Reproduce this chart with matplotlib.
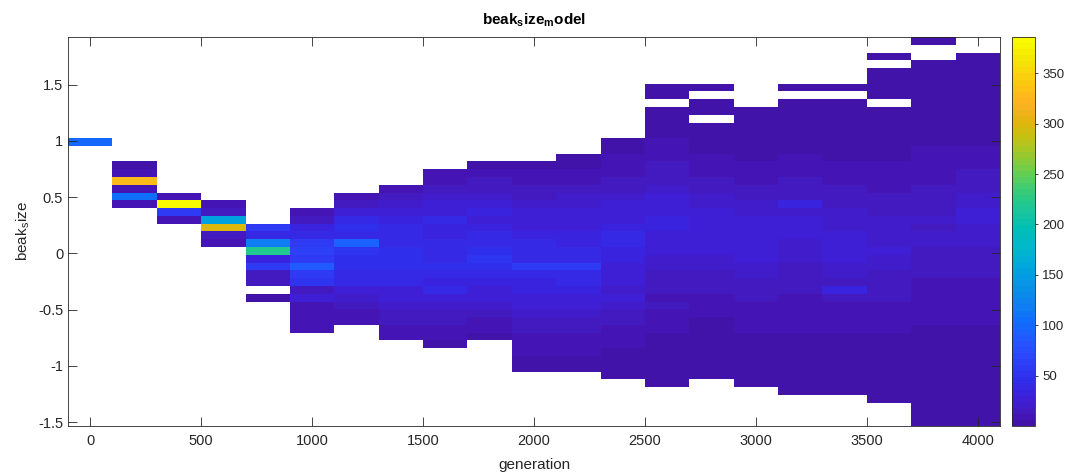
import numpy as np
import matplotlib
matplotlib.use("Agg")
import matplotlib.pyplot as plt
from matplotlib.colors import ListedColormap, rgb_to_hsv, hsv_to_rgb

# generations sampled every 200 steps, beak sizes binned into 50 equal bins
generations = list(range(0, 4001, 200))
beak_lo, beak_hi, n_bins = -1.533, 1.923, 50

# index (counted from the top bin) of the first listed bin in each generation
first_bin = [13, 16, 20, 21, 24, 22, 20, 19, 17, 16, 16, 15, 13, 6, 6, 9, 6, 6, 2, 0, 2]

# counts per bin, top to bottom, starting at first_bin; 0 = empty bin
column_counts = [
    [100],
    [5, 8, 330, 12, 105, 10],
    [10, 386, 55, 12],
    [12, 18, 152, 300, 15, 12],
    [55, 40, 120, 220, 35, 60, 15, 14, 0, 6],
    [8, 15, 35, 40, 55, 62, 55, 90, 55, 52, 15, 25, 12, 12, 8, 8],
    [8, 15, 30, 38, 45, 42, 95, 50, 48, 45, 42, 38, 25, 22, 15, 10, 8],
    [10, 18, 22, 28, 32, 38, 40, 42, 45, 48, 45, 42, 38, 30, 25, 20, 18, 14, 10, 8],
    [8, 12, 18, 22, 28, 25, 40, 32, 35, 40, 38, 42, 45, 40, 35, 38, 25, 22, 18, 15, 12, 10, 6],
    [6, 10, 14, 18, 22, 28, 32, 30, 35, 38, 40, 45, 50, 48, 42, 32, 30, 25, 20, 15, 12, 8, 6],
    [5, 8, 12, 15, 18, 22, 25, 28, 30, 32, 38, 42, 40, 55, 40, 35, 32, 28, 25, 20, 18, 15, 12, 10, 8, 6, 5],
    [5, 6, 10, 12, 15, 20, 22, 25, 28, 30, 32, 35, 38, 40, 55, 42, 38, 32, 28, 25, 20, 18, 15, 12, 10, 8, 6, 5],
    [4, 6, 8, 10, 12, 15, 18, 22, 25, 28, 30, 35, 40, 38, 35, 32, 30, 28, 25, 22, 25, 20, 18, 15, 12,
     10, 8, 6, 5, 4, 3],
    [2, 1, 0, 3, 4, 5, 6, 8, 10, 12, 14, 16, 18, 22, 25, 30, 28, 35, 32, 30, 28, 25, 22, 20, 18, 16,
     14, 12, 15, 10, 8, 7, 6, 5, 4, 3, 2, 2, 1],
    [1, 0, 2, 1, 0, 2, 3, 4, 5, 7, 9, 11, 14, 16, 20, 22, 26, 28, 25, 30, 28, 25, 22, 20, 18, 15, 13,
     11, 9, 7, 5, 4, 3, 2, 2, 1, 1, 1],
    [1, 2, 2, 3, 4, 5, 6, 8, 10, 12, 15, 18, 20, 22, 25, 28, 26, 30, 28, 25, 22, 20, 18, 15, 14, 12,
     10, 8, 7, 6, 4, 3, 3, 2, 1, 1],
    [1, 0, 1, 2, 2, 3, 4, 5, 6, 8, 10, 12, 14, 16, 18, 35, 22, 25, 28, 26, 24, 22, 20, 18, 16, 15, 14,
     12, 10, 9, 8, 7, 6, 5, 4, 3, 2, 2, 1, 1],
    [1, 0, 1, 1, 2, 2, 3, 4, 5, 6, 8, 9, 11, 13, 15, 18, 20, 22, 24, 26, 25, 28, 26, 24, 20, 18, 35,
     14, 12, 10, 8, 7, 6, 5, 4, 3, 2, 1, 1, 1],
    [1, 0, 1, 1, 1, 1, 0, 1, 2, 2, 3, 4, 5, 6, 7, 9, 10, 12, 14, 16, 18, 20, 22, 24, 22, 25, 22, 20,
     18, 16, 15, 13, 12, 10, 9, 8, 6, 5, 4, 3, 2, 2, 1, 1, 1],
    [1, 0, 0, 1, 1, 1, 1, 2, 2, 3, 3, 4, 5, 6, 7, 8, 10, 11, 12, 14, 15, 16, 18, 20, 18, 22, 20, 18,
     16, 15, 14, 12, 11, 10, 9, 8, 7, 6, 5, 5, 4, 3, 3, 2, 2, 2, 1, 1, 1, 1],
    [1, 1, 1, 1, 1, 2, 2, 3, 3, 4, 5, 6, 8, 9, 11, 13, 15, 17, 19, 22, 25, 28, 24, 22, 20, 18, 16,
     15, 13, 12, 11, 10, 9, 8, 7, 6, 5, 4, 4, 3, 3, 2, 2, 2, 1, 1, 1, 1],
]

# MATLAB parula, 64 levels
parula_rgb = np.array([
    [0.2422, 0.1504, 0.6603], [0.2504, 0.1650, 0.7076], [0.2578, 0.1818, 0.7511], [0.2647, 0.1978, 0.7952],
    [0.2706, 0.2147, 0.8364], [0.2751, 0.2342, 0.8710], [0.2783, 0.2559, 0.8991], [0.2803, 0.2782, 0.9221],
    [0.2813, 0.3006, 0.9414], [0.2810, 0.3228, 0.9579], [0.2795, 0.3447, 0.9717], [0.2760, 0.3667, 0.9829],
    [0.2699, 0.3892, 0.9906], [0.2602, 0.4123, 0.9952], [0.2440, 0.4358, 0.9988], [0.2206, 0.4603, 0.9973],
    [0.1963, 0.4847, 0.9892], [0.1834, 0.5074, 0.9798], [0.1786, 0.5289, 0.9682], [0.1764, 0.5499, 0.9520],
    [0.1687, 0.5703, 0.9359], [0.1540, 0.5902, 0.9218], [0.1460, 0.6091, 0.9079], [0.1380, 0.6276, 0.8973],
    [0.1248, 0.6459, 0.8883], [0.1113, 0.6635, 0.8763], [0.0952, 0.6798, 0.8598], [0.0689, 0.6948, 0.8394],
    [0.0297, 0.7082, 0.8163], [0.0036, 0.7203, 0.7917], [0.0067, 0.7312, 0.7660], [0.0433, 0.7411, 0.7394],
    [0.0964, 0.7500, 0.7120], [0.1408, 0.7584, 0.6842], [0.1717, 0.7670, 0.6554], [0.1938, 0.7758, 0.6251],
    [0.2161, 0.7843, 0.5923], [0.2470, 0.7918, 0.5567], [0.2906, 0.7973, 0.5188], [0.3406, 0.8008, 0.4789],
    [0.3909, 0.8029, 0.4354], [0.4456, 0.8024, 0.3909], [0.5044, 0.7993, 0.3480], [0.5616, 0.7942, 0.3045],
    [0.6174, 0.7876, 0.2612], [0.6720, 0.7793, 0.2227], [0.7242, 0.7698, 0.1910], [0.7738, 0.7598, 0.1646],
    [0.8203, 0.7498, 0.1535], [0.8634, 0.7406, 0.1596], [0.9035, 0.7330, 0.1774], [0.9393, 0.7288, 0.2100],
    [0.9728, 0.7298, 0.2394], [0.9956, 0.7434, 0.2371], [0.9970, 0.7659, 0.2199], [0.9952, 0.7893, 0.2028],
    [0.9892, 0.8136, 0.1885], [0.9786, 0.8386, 0.1766], [0.9676, 0.8639, 0.1643], [0.9610, 0.8890, 0.1537],
    [0.9597, 0.9135, 0.1423], [0.9628, 0.9373, 0.1265], [0.9691, 0.9606, 0.1064], [0.9769, 0.9839, 0.0805],
])

# screen-style rendering: a bit more saturated, darkest blues pushed toward violet
hsv = rgb_to_hsv(parula_rgb)
hue_deg = hsv[:, 0] * 360
shift = np.where((hue_deg > 240) & (hue_deg < 275), 8 * np.clip((hue_deg - 240) / 9, 0, 1), 0)
hsv[:, 0] = (hue_deg + shift) / 360
hsv[:, 1] = np.clip(hsv[:, 1] * 1.15, 0, 1)
parula = ListedColormap(hsv_to_rgb(hsv), name="parula")
parula.set_bad("white")

# assemble the bin x generation count matrix (row 0 = top bin)
counts = np.zeros((n_bins, len(generations)))
for j, (start, col) in enumerate(zip(first_bin, column_counts)):
    counts[start:start + len(col), j] = col
counts = np.ma.masked_equal(counts, 0)

step = generations[1] - generations[0]
x_edges = np.append(np.array(generations) - step / 2, generations[-1] + step / 2)
y_edges = np.linspace(beak_hi, beak_lo, n_bins + 1)

plt.rcParams["font.family"] = ["Liberation Sans", "DejaVu Sans"]
plt.rcParams["font.size"] = 10.5
ink = "#262626"

fig = plt.figure(figsize=(10.66, 4.73), dpi=100)
ax = fig.add_axes([0.0638, 0.0994, 0.8743, 0.8224])
mesh = ax.pcolormesh(x_edges, y_edges, counts, cmap=parula, vmin=0, vmax=386, shading="flat")

ax.set_xlim(x_edges[0], x_edges[-1])
ax.set_ylim(beak_lo, beak_hi)
ax.set_xticks(range(0, 4001, 500))
ax.set_yticks([-1.5, -1, -0.5, 0, 0.5, 1, 1.5])
ax.set_yticklabels(["-1.5", "-1", "-0.5", "0", "0.5", "1", "1.5"])
ax.tick_params(direction="in", length=6.5, width=0.6, color=ink, labelcolor=ink,
               top=True, right=True)
ax.tick_params(axis="x", pad=6)
for sp in ax.spines.values():
    sp.set_color(ink)
    sp.set_linewidth(0.6)

ax.set_title(r"beak$_\mathregular{s}$ize$_\mathregular{m}$odel", fontsize=11,
             fontweight="bold", color="black", pad=9)
ax.set_xlabel("generation", fontsize=11, color=ink, labelpad=7)
ax.set_ylabel(r"beak$_\mathregular{s}$ize", fontsize=11, color=ink, labelpad=4)

cax = fig.add_axes([0.9497, 0.0994, 0.0216, 0.8224])
cbar = fig.colorbar(mesh, cax=cax, ticks=range(50, 351, 50))
cbar.outline.set_edgecolor(ink)
cbar.outline.set_linewidth(0.6)
cax.tick_params(direction="out", length=2.5, width=0.6, color=ink, labelcolor=ink,
                labelsize=9.5, pad=2.5)

fig.savefig("out.png", dpi=100)
plt.close(fig)
